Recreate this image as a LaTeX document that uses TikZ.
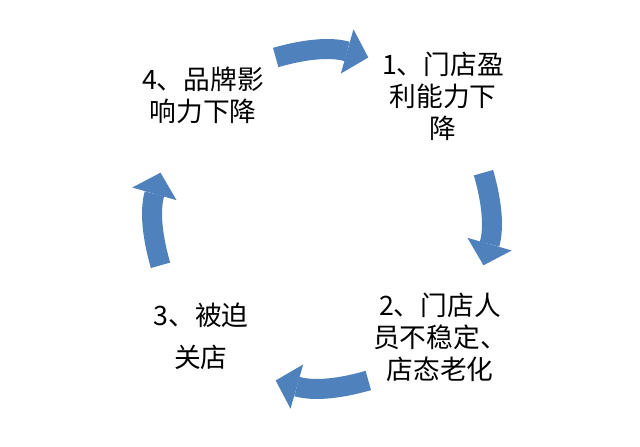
\documentclass[tikz,border=0pt]{standalone}
\usepackage{fontspec}
\newfontfamily\cjk{Noto Sans CJK SC}
\usetikzlibrary{arrows.meta,calc}
\definecolor{cyclecolor}{RGB}{79,129,189}

\begin{document}
\begin{tikzpicture}[x=0.025cm, y=0.025cm,
    stage/.style={align=center, inner sep=0pt, font=\cjk\fontsize{19}{22.7}\selectfont},
    cyclearrow/.style={draw=cyclecolor, line width=0.5cm, bend left=16,
        -{Triangle[length=0.55cm, width=1.15cm, line width=0pt]}}
]
    \fill[white] (0,0) rectangle (640,447);

    % Four stages
    \node[stage] (s1) at (443,351) {1、门店盈\\利能力下\\降};
    \node[stage] (s2) at (440,110) {2、门店人\\员不稳定、\\店态老化};
    \node[stage] (s3) at (201,111) {3、被迫\\[7pt]关店};
    \node[stage] (s4) at (203,352) {4、品牌影\\响力下降};

    % Arrow ends round the hub
    \coordinate (hub) at (322,228);
    \coordinate (t1) at ($(hub)+(106:168)$);
    \coordinate (h1) at ($(hub)+(74:168)$);
    \coordinate (t2) at ($(hub)+(16:168)$);
    \coordinate (h2) at ($(hub)+(-16:168)$);
    \coordinate (t3) at ($(hub)+(-74:168)$);
    \coordinate (h3) at ($(hub)+(-106:168)$);
    \coordinate (t4) at ($(hub)+(196:168)$);
    \coordinate (h4) at ($(hub)+(164:168)$);

    % Arrows
    \draw[cyclearrow] (t1) to (h1);
    \draw[cyclearrow] (t2) to (h2);
    \draw[cyclearrow] (t3) to (h3);
    \draw[cyclearrow] (t4) to (h4);
\end{tikzpicture}
\end{document}
